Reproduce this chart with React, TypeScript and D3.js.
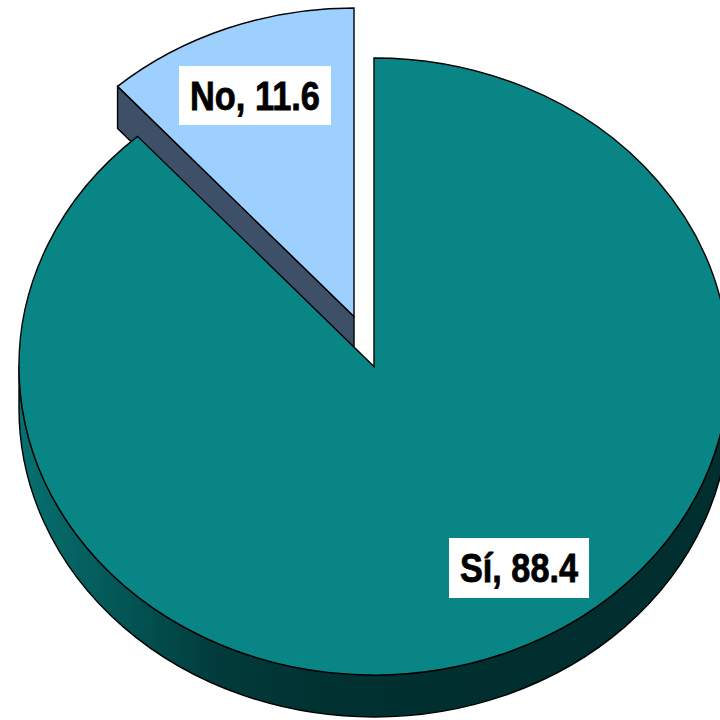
import React from "react";
import * as d3 from "d3";

const categories = ["Sí", "No"];
const values = [88.4, 11.6];
const topColors = ["#0a8585", "#9dcfff"];
const sideColor = "#3d5068";

// pie geometry
const cx = 374;
const cy = 366.5;
const rx = 355;
const ry = 308.5;
const depth = 42;
const explode = { dx: -20, dy: -50 };

// label boxes: [x, y, width, height, text width]
const labelBoxes = [
  [449, 538, 140, 60, 118],
  [179, 66, 152, 59, 130],
];

const sideStops = [
  [0, "#077070"],
  [0.08, "#056262"],
  [0.18, "#034f4f"],
  [0.28, "#023b3b"],
  [0.45, "#013030"],
  [1, "#012e2e"],
];

const pie = d3.pie<number>().sort(null);
const arcs = pie(values);
const unitArc = d3.arc<any>().innerRadius(0).outerRadius(1);

// point on the ellipse for a pie angle (0 = up, clockwise)
const px = (a: number) => Math.sin(a) * rx;
const py = (a: number) => -Math.cos(a) * ry;

const stroke = { stroke: "#000", strokeWidth: 1.4, vectorEffect: "non-scaling-stroke" as const };

export default function App() {
  const wall =
    `M${cx - rx},${cy} A${rx},${ry} 0 0 0 ${cx + rx},${cy} ` +
    `L${cx + rx},${cy + depth} A${rx},${ry} 0 0 1 ${cx - rx},${cy + depth} Z`;

  const noAngle = arcs[1].startAngle;
  const tipX = cx + explode.dx;
  const tipY = cy + explode.dy;
  const noEdge = d3.line()([
    [tipX, tipY],
    [tipX + px(noAngle), tipY + py(noAngle)],
    [tipX + px(noAngle), tipY + py(noAngle) + depth],
    [tipX, tipY + depth],
  ]) + "Z";

  return (
    <svg
      width={720}
      height={720}
      viewBox="0 0 720 720"
      style={{ position: "absolute", left: 0, top: 0, background: "#fff" }}
    >
      <defs>
        <linearGradient id="wall" gradientUnits="userSpaceOnUse" x1={cx - rx} x2={cx + rx} y1={0} y2={0}>
          {sideStops.map(([o, c]) => (
            <stop key={o} offset={o} stopColor={c as string} />
          ))}
        </linearGradient>
      </defs>

      {/* side walls go first, the top faces cover them */}
      <path d={wall} fill="url(#wall)" {...stroke} />
      <path d={noEdge} fill={sideColor} {...stroke} />

      {arcs.map((d, i) => {
        const off = categories[i] === "No" ? explode : { dx: 0, dy: 0 };
        return (
          <path
            key={categories[i]}
            d={unitArc(d) as string}
            transform={`translate(${cx + off.dx},${cy + off.dy}) scale(${rx},${ry})`}
            fill={topColors[i]}
            {...stroke}
          />
        );
      })}

      {categories.map((c, i) => {
        const [x, y, w, h, tw] = labelBoxes[i];
        return (
          <g key={c}>
            <rect x={x} y={y} width={w} height={h} fill="#fff" />
            <text
              x={x + w / 2}
              y={y + h / 2 + 14}
              textAnchor="middle"
              textLength={tw}
              lengthAdjust="spacingAndGlyphs"
              fontFamily="Liberation Sans, Arial, sans-serif"
              fontWeight={700}
              fontSize={40}
              fill="#000"
              stroke="#000"
              strokeWidth={0.8}
            >
              {`${c}, ${values[i]}`}
            </text>
          </g>
        );
      })}
    </svg>
  );
}
